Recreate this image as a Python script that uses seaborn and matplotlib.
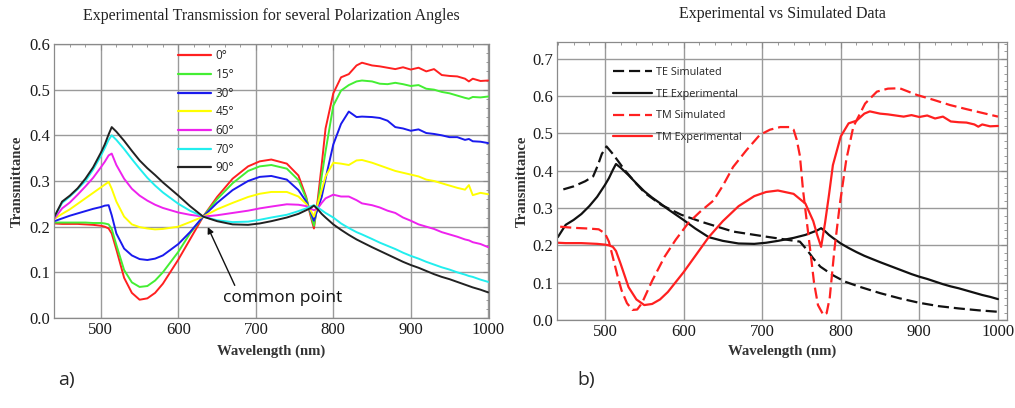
import numpy as np
import pandas as pd
import matplotlib
matplotlib.use("Agg")
import matplotlib.pyplot as plt
from matplotlib.ticker import MultipleLocator
import seaborn as sns

# ---- data ----
wavelength = [440, 450, 460, 470, 480, 490, 500, 505, 510, 514, 520, 530, 540, 550,
              560, 570, 580, 600, 615, 632, 650, 670, 690, 705, 720, 740, 755, 765,
              770, 775, 780, 785, 790, 800, 810, 820, 830, 837, 850, 860, 870, 880,
              890, 900, 910, 920, 930, 940, 950, 960, 970, 975, 980, 990, 1000]

t_0 = [0.207, 0.206, 0.206, 0.206, 0.205, 0.204, 0.202, 0.200, 0.196, 0.185, 0.150, 0.088,
       0.055, 0.040, 0.043, 0.055, 0.075, 0.128, 0.172, 0.222, 0.265, 0.305, 0.332, 0.343,
       0.347, 0.338, 0.312, 0.265, 0.228, 0.196, 0.260, 0.335, 0.415, 0.492, 0.527, 0.534,
       0.553, 0.559, 0.553, 0.551, 0.548, 0.545, 0.549, 0.544, 0.548, 0.540, 0.545, 0.532,
       0.530, 0.529, 0.524, 0.518, 0.524, 0.519, 0.520]
t_15 = [0.209, 0.209, 0.209, 0.209, 0.209, 0.208, 0.208, 0.207, 0.205, 0.195, 0.160, 0.105,
        0.078, 0.068, 0.070, 0.082, 0.100, 0.145, 0.185, 0.222, 0.260, 0.295, 0.322, 0.332,
        0.335, 0.327, 0.302, 0.262, 0.232, 0.202, 0.250, 0.310, 0.365, 0.465, 0.498, 0.510,
        0.518, 0.520, 0.518, 0.513, 0.512, 0.515, 0.512, 0.508, 0.510, 0.502, 0.500, 0.495,
        0.492, 0.487, 0.482, 0.480, 0.484, 0.483, 0.485]
t_30 = [0.212, 0.218, 0.224, 0.229, 0.234, 0.239, 0.243, 0.246, 0.247, 0.225, 0.185, 0.152,
        0.137, 0.129, 0.127, 0.130, 0.137, 0.162, 0.188, 0.222, 0.252, 0.280, 0.300, 0.309,
        0.311, 0.303, 0.280, 0.255, 0.235, 0.213, 0.240, 0.265, 0.305, 0.380, 0.425, 0.452,
        0.440, 0.441, 0.440, 0.438, 0.432, 0.418, 0.415, 0.410, 0.413, 0.405, 0.403, 0.400,
        0.396, 0.396, 0.390, 0.392, 0.387, 0.386, 0.383]
t_45 = [0.217, 0.228, 0.238, 0.250, 0.262, 0.274, 0.286, 0.292, 0.298, 0.283, 0.255, 0.222,
        0.205, 0.199, 0.196, 0.194, 0.195, 0.200, 0.210, 0.222, 0.238, 0.252, 0.265, 0.272,
        0.276, 0.276, 0.266, 0.250, 0.238, 0.222, 0.250, 0.280, 0.310, 0.340, 0.338, 0.335,
        0.345, 0.346, 0.340, 0.334, 0.328, 0.322, 0.318, 0.314, 0.310, 0.303, 0.300, 0.295,
        0.290, 0.285, 0.281, 0.291, 0.269, 0.274, 0.271]
t_60 = [0.218, 0.240, 0.253, 0.270, 0.288, 0.307, 0.330, 0.342, 0.356, 0.360, 0.335, 0.305,
        0.283, 0.268, 0.257, 0.248, 0.241, 0.231, 0.226, 0.222, 0.225, 0.230, 0.235, 0.240,
        0.244, 0.249, 0.248, 0.245, 0.240, 0.236, 0.240, 0.252, 0.262, 0.270, 0.266, 0.266,
        0.258, 0.251, 0.247, 0.242, 0.235, 0.230, 0.220, 0.213, 0.205, 0.200, 0.195, 0.188,
        0.183, 0.178, 0.172, 0.170, 0.166, 0.162, 0.155]
t_70 = [0.222, 0.252, 0.266, 0.282, 0.300, 0.325, 0.355, 0.372, 0.390, 0.400, 0.390, 0.370,
        0.348, 0.327, 0.307, 0.290, 0.275, 0.250, 0.235, 0.222, 0.214, 0.210, 0.211, 0.215,
        0.220, 0.226, 0.234, 0.240, 0.244, 0.247, 0.242, 0.236, 0.230, 0.220, 0.207, 0.197,
        0.188, 0.183, 0.173, 0.165, 0.158, 0.151, 0.143, 0.136, 0.130, 0.123, 0.117, 0.111,
        0.106, 0.100, 0.095, 0.092, 0.090, 0.084, 0.079]
t_90 = [0.222, 0.255, 0.268, 0.284, 0.305, 0.330, 0.362, 0.380, 0.402, 0.418, 0.408, 0.388,
        0.366, 0.345, 0.328, 0.313, 0.297, 0.268, 0.245, 0.222, 0.212, 0.205, 0.204, 0.207,
        0.212, 0.220, 0.228, 0.236, 0.240, 0.246, 0.238, 0.228, 0.220, 0.205, 0.193, 0.182,
        0.172, 0.166, 0.155, 0.147, 0.139, 0.131, 0.123, 0.116, 0.110, 0.103, 0.096, 0.090,
        0.085, 0.079, 0.073, 0.070, 0.067, 0.062, 0.056]

angle_labels = ["0°", "15°", "30°", "45°", "60°", "70°", "90°"]
angle_colors = ["#ff2020", "#44ee33", "#1a1aee", "#ffff00", "#ee22ee", "#22eeee", "#222222"]

# simulated spectra (right panel)
wl_te_sim = [447, 460, 475, 485, 491, 496, 502, 510, 525, 540, 551, 572, 597, 623, 663,
             706, 748, 757, 765, 774, 790, 805, 824, 850, 875, 900, 925, 950, 975, 1000]
te_sim = [0.350, 0.358, 0.372, 0.385, 0.415, 0.445, 0.465, 0.445, 0.402, 0.365, 0.340,
          0.308, 0.282, 0.263, 0.237, 0.223, 0.210, 0.188, 0.165, 0.143, 0.120, 0.103,
          0.089, 0.072, 0.058, 0.046, 0.037, 0.031, 0.026, 0.022]

wl_tm_sim = [443, 460, 480, 492, 500, 505, 511, 516, 521, 528, 535, 541, 547, 560, 576,
             590, 606, 621, 638, 650, 663, 680, 697, 710, 723, 735, 740, 744, 748, 752,
             757, 761, 766, 771, 778, 782, 786, 792, 799, 807, 816, 831, 846, 860, 875,
             897, 918, 939, 960, 980, 1000]
tm_sim = [0.250, 0.247, 0.245, 0.243, 0.232, 0.210, 0.160, 0.118, 0.080, 0.045, 0.027,
          0.028, 0.045, 0.105, 0.170, 0.215, 0.260, 0.290, 0.320, 0.360, 0.410, 0.455,
          0.496, 0.510, 0.517, 0.517, 0.510, 0.483, 0.440, 0.348, 0.260, 0.190, 0.100,
          0.040, 0.013, 0.018, 0.060, 0.190, 0.313, 0.429, 0.518, 0.580, 0.612, 0.620,
          0.621, 0.603, 0.590, 0.576, 0.565, 0.555, 0.545]

# ---- style ----
sns.set_theme(style="white")
plt.rcParams["font.family"] = ["Liberation Serif", "DejaVu Serif"]
plt.rcParams["axes.edgecolor"] = "#8a8a8a"
plt.rcParams["axes.linewidth"] = 0.9

SANS = ["Open Sans", "DejaVu Sans"]

fig = plt.figure(figsize=(10.15, 4.08), dpi=100)
ax1 = fig.add_axes([0.0532, 0.2206, 0.4286, 0.6716])
ax2 = fig.add_axes([0.5488, 0.2157, 0.4433, 0.6814])


def style_axes(ax, ymax, yticks, xlim, ylab_x, xlab_y):
    ax.set_xlim(*xlim)
    ax.set_ylim(0, ymax)
    ax.set_xticks([500, 600, 700, 800, 900, 1000])
    ax.set_yticks(yticks)
    ax.xaxis.set_minor_locator(MultipleLocator(20))
    ax.yaxis.set_minor_locator(MultipleLocator(0.02))
    ax.tick_params(which="both", direction="in", top=True, right=True, color="#8a8a8a")
    ax.tick_params(which="major", length=4, width=0.8, labelsize=12, pad=3,
                   labelcolor="#1a1a1a")
    ax.tick_params(which="minor", length=2.5, width=0.6)
    ax.grid(True, which="major", color="#9a9a9a", lw=1.0)
    ax.set_axisbelow(True)
    ax.yaxis.set_major_formatter(plt.FuncFormatter(lambda v, p: f"{v:.1f}"))
    ax.set_xlabel("Wavelength (nm)", fontsize=10.6, fontweight="bold", color="#333333")
    ax.set_ylabel("Transmittance", fontsize=10.6, fontweight="bold", color="#333333")
    ax.yaxis.set_label_coords(ylab_x, 0.5)
    ax.xaxis.set_label_coords(0.5, xlab_y)


# ---- panel a ----
series = [t_0, t_15, t_30, t_45, t_60, t_70, t_90]
df_a = pd.concat([pd.DataFrame({"Wavelength": wavelength, "T": s, "Angle": lab})
                  for s, lab in zip(series, angle_labels)], ignore_index=True)
sns.lineplot(data=df_a, x="Wavelength", y="T", hue="Angle", hue_order=angle_labels,
             palette=angle_colors, lw=1.4, ax=ax1, sort=False, legend=True)
style_axes(ax1, 0.6, [0.0, 0.1, 0.2, 0.3, 0.4, 0.5, 0.6], (439.5, 1001), -0.069, -0.098)
ax1.set_title("Experimental Transmission for several Polarization Angles",
              fontsize=11.5, pad=17, color="#222222")
leg1 = ax1.legend(loc="upper left", bbox_to_anchor=(0.285, 0.98), frameon=False,
                  borderpad=0, borderaxespad=0, handlelength=2.8, handletextpad=0.4,
                  labelspacing=0.48, prop={"family": SANS, "size": 8.5})
for h in leg1.get_lines():
    h.set_linewidth(1.6)

ax1.annotate("common point", xy=(638, 0.199), xytext=(734, 0.044),
             ha="center", va="center", fontsize=12.5, family=SANS, color="#111111",
             arrowprops=dict(arrowstyle="-|>", color="#111111", lw=1.0,
                             mutation_scale=9, relpos=(0.12, 1.0), shrinkA=1, shrinkB=0))

# ---- panel b ----
sns.lineplot(x=wl_te_sim, y=te_sim, color="#111111", lw=1.6, ax=ax2,
             linestyle=(0, (5, 2.2)), label="TE Simulated")
sns.lineplot(x=wavelength, y=t_90, color="#111111", lw=1.6, ax=ax2, label="TE Experimental")
sns.lineplot(x=wl_tm_sim, y=tm_sim, color="#ff2020", lw=1.6, ax=ax2,
             linestyle=(0, (5, 2.2)), label="TM Simulated")
sns.lineplot(x=wavelength, y=t_0, color="#ff2020", lw=1.6, ax=ax2, label="TM Experimental")
style_axes(ax2, 0.745, [0.0, 0.1, 0.2, 0.3, 0.4, 0.5, 0.6, 0.7], (439, 1011.5),
           -0.062, -0.090)
ax2.set_title("Experimental vs Simulated Data", fontsize=11.5, pad=17, color="#222222")
ax2.legend(loc="upper left", bbox_to_anchor=(0.124, 0.911), frameon=False,
           borderpad=0, borderaxespad=0, handlelength=3.6, handletextpad=0.4,
           labelspacing=1.0, prop={"family": SANS, "size": 7.8})

fig.text(58 / 1015, 1 - 380 / 408, "a)", fontsize=14, family=SANS, va="center")
fig.text(577 / 1015, 1 - 380 / 408, "b)", fontsize=14, family=SANS, va="center")

fig.savefig("out.png", dpi=100)
